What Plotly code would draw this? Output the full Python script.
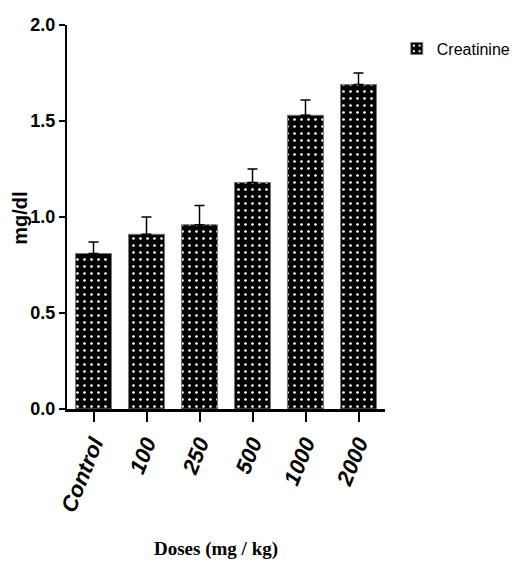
import plotly.graph_objects as go

categories = ["Control", "100", "250", "500", "1000", "2000"]
creatinine = [0.81, 0.91, 0.96, 1.18, 1.53, 1.69]
sem = [0.06, 0.09, 0.10, 0.07, 0.08, 0.06]
y_ticks = [0.0, 0.5, 1.0, 1.5, 2.0]
y_tick_labels = ["0.0", "0.5", "1.0", "1.5", "2.0"]

fig = go.Figure()
fig.add_trace(go.Bar(
    x=categories, y=creatinine, name="Creatinine",
    marker=dict(color="black",
                line=dict(color="#777", width=1),
                pattern=dict(shape=".", fgcolor="white", bgcolor="black",
                             size=7, solidity=0.12, fillmode="replace")),
    error_y=dict(type="data", array=sem, arrayminus=[0]*len(sem), symmetric=False,
                 color="black", thickness=1.5, width=5),
))

fig.update_layout(
    width=515, height=555,
    margin=dict(l=59, r=138, t=17, b=154, autoexpand=False),
    plot_bgcolor="white", paper_bgcolor="white",
    bargap=0.32,
    showlegend=True,
    legend=dict(x=1.037, y=0.983, xanchor="left", yanchor="top",
                font=dict(family="Liberation Sans, Arial", size=16, color="black"),
                bgcolor="rgba(0,0,0,0)"),
    font=dict(family="Liberation Sans, Arial", color="black"),
    annotations=[
        dict(text="<b>mg/dl</b>", textangle=-90, xref="paper", yref="paper",
             x=-0.146, y=0.497, xanchor="center", yanchor="middle", showarrow=False,
             font=dict(family="Liberation Sans, Arial", size=20, color="black")),
        dict(text="<b>Doses (mg / kg)</b>", xref="paper", yref="paper",
             x=0.469, y=-0.365, xanchor="center", yanchor="middle", showarrow=False,
             font=dict(family="Liberation Serif, Times New Roman", size=19, color="black")),
    ],
)
fig.update_yaxes(
    range=[0, 2.0], tickvals=y_ticks, ticktext=y_tick_labels,
    automargin=False,
    showgrid=False, zeroline=False,
    showline=True, linecolor="black", linewidth=2,
    ticks="outside", ticklen=6, tickwidth=2, tickcolor="black",
    tickfont=dict(family="Liberation Sans, Arial", size=18, color="black", weight="bold"),
)
fig.update_xaxes(
    automargin=False,
    showgrid=False, zeroline=False,
    showline=True, linecolor="black", linewidth=3,
    ticks="outside", ticklen=10, tickwidth=2, tickcolor="black",
    tickangle=-68,
    tickfont=dict(family="Liberation Sans, Arial", size=22, color="black", weight="bold", style="italic"),
)

fig.write_html("out.html")
